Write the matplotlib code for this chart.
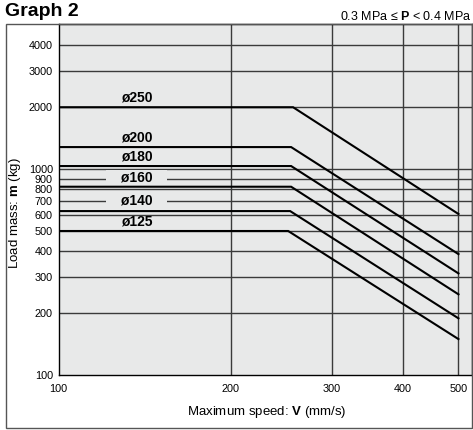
import matplotlib
matplotlib.use("Agg")
import matplotlib.pyplot as plt
from matplotlib.patches import Rectangle

plt.rcParams['font.family'] = ['Liberation Sans', 'DejaVu Sans']
plt.rcParams['mathtext.fontset'] = 'custom'
plt.rcParams['mathtext.rm'] = 'Liberation Sans'
plt.rcParams['mathtext.bf'] = 'Liberation Sans:bold'

# Data
bores = ["ø250", "ø200", "ø180", "ø160", "ø140", "ø125"]
plateau_mass = [2000, 1280, 1035, 821, 625, 500]       # kg, from V=100 to break
break_speed = [257, 255, 255, 255, 254, 252]            # mm/s
end_speed = [500, 500, 500, 500, 500, 500]              # mm/s
end_mass = [605, 386, 311, 246, 188, 149]               # kg at V=500
start_speed = 100

x_ticks = [100, 200, 300, 400, 500]
y_ticks = [100, 200, 300, 400, 500, 600, 700, 800, 900, 1000, 2000, 3000, 4000]

BG = '#e8e9e9'
W, H = 473, 430
fig = plt.figure(figsize=(W / 100, H / 100), dpi=100)
ax = fig.add_axes([58.5 / W, 1 - 374.7 / H, (472 - 58.5) / W, (374.7 - 24) / H])
ax.set_facecolor(BG)
ax.set_xscale('log')
ax.set_yscale('log')
ax.set_xlim(100, 528)
ax.set_ylim(100, 5080)

for xv in x_ticks[1:]:
    ax.axvline(xv, color='#3a3a3a', lw=1.0, zorder=1)
for yv in y_ticks[1:]:
    ax.axhline(yv, color='#3a3a3a', lw=1.0, zorder=1)

for name, pm, bs, es, em in zip(bores, plateau_mass, break_speed, end_speed, end_mass):
    ax.plot([start_speed, bs, es], [pm, pm, em], color='black', lw=1.5, zorder=3,
            solid_joinstyle='miter')

# labels above plateau lines
label_x = 137
label_pos = {"ø250": 1.11, "ø200": 1.11, "ø180": 1.11, "ø160": 1.11, "ø140": 1.12, "ø125": 1.11}
for name, pm in zip(bores, plateau_mass):
    if name in ("ø160", "ø140"):
        ax.text(label_x, pm * label_pos[name], "\u2002\u2002" + name + "\u2002\u2002",
                ha='center', va='center', fontsize=10, fontweight='bold', zorder=2,
                bbox=dict(boxstyle='square,pad=0.05', facecolor=BG, edgecolor='none'))
    else:
        ax.text(label_x, pm * label_pos[name], name, ha='center', va='center',
                fontsize=10, fontweight='bold', zorder=4)

ax.xaxis.set_major_locator(matplotlib.ticker.FixedLocator(x_ticks))
ax.xaxis.set_minor_locator(matplotlib.ticker.NullLocator())
ax.xaxis.set_major_formatter(matplotlib.ticker.FixedFormatter([str(v) for v in x_ticks]))
ax.yaxis.set_major_locator(matplotlib.ticker.FixedLocator(y_ticks))
ax.yaxis.set_minor_locator(matplotlib.ticker.NullLocator())
ax.yaxis.set_major_formatter(matplotlib.ticker.FixedFormatter([str(v) for v in y_ticks]))
ax.tick_params(axis='both', length=0, labelsize=7.8, colors='black', pad=4)
ax.tick_params(axis='x', pad=7)
for sp in ax.spines.values():
    sp.set_color('black')
    sp.set_linewidth(1.0)

ax.set_xlabel(r'Maximum speed: $\mathbf{V}$ (mm/s)', fontsize=9.5)
ax.xaxis.set_label_coords(0.503, -0.106)
ax.set_ylabel(r'Load mass: $\mathbf{m}$ (kg)', fontsize=9.5)
ax.yaxis.set_label_coords(-0.105, 0.461)
ax.xaxis.label.set_va('center')
ax.yaxis.label.set_va('center')

# outer frame
fig.patches.append(Rectangle((5.5 / W, 1 - 428 / H), (472 - 5.5) / W, (428 - 24) / H,
                             transform=fig.transFigure, fill=False,
                             edgecolor='#555555', lw=1.0, zorder=0))

fig.text(5 / W, 1 - 11 / H, 'Graph 2', fontsize=14, fontweight='bold',
         ha='left', va='center')
fig.text(472 / W, 1 - 16 / H, r'0.3 MPa ≤ $\mathbf{P}$ < 0.4 MPa', fontsize=9,
         ha='right', va='center')

fig.savefig('out.png', dpi=100)
